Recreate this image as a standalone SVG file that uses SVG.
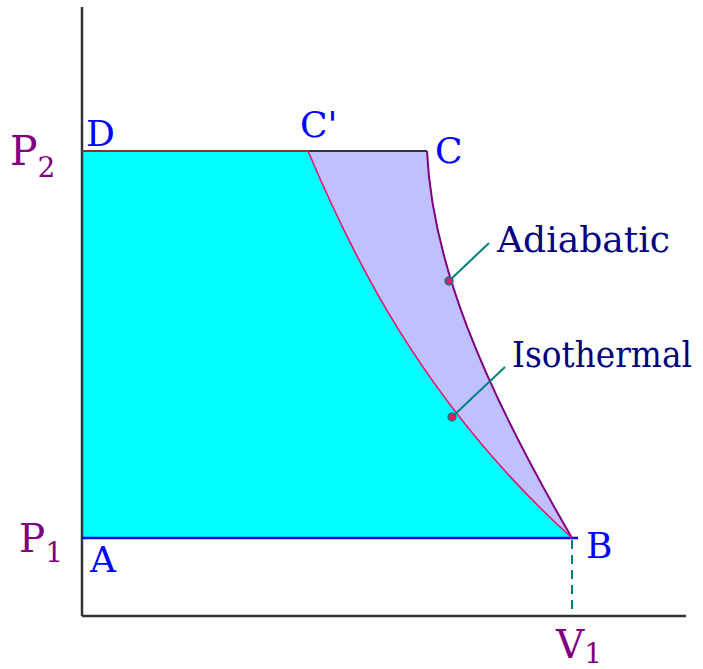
<svg xmlns="http://www.w3.org/2000/svg" width="703" height="669" viewBox="0 0 703 669">
<style>
text{font-family:'DejaVu Serif','Liberation Serif',serif}
.lbl{fill:#0000FF;font-size:36px}
.ax{fill:#800080}
.cap{fill:#000080;font-size:35px}
.lead{stroke:#008080;stroke-width:2;fill:none}
.dot{fill:#E8186A;stroke:#008080;stroke-width:1.5}
</style>
<rect width="703" height="669" fill="#fff"/>
<g id="regions">
<path d="M82,151 L308,151 C350,250 420,400 572,538 L82,538 Z" fill="#00FFFF"/>
<path d="M308,151 L427,151 C432,260 480,380 572,538 C420,400 350,250 308,151 Z" fill="#C0C0FF"/>
</g>
<g id="connectors">
<line x1="82" y1="7" x2="82" y2="616" stroke="#333" stroke-width="2.5"/>
<line x1="82" y1="616" x2="686" y2="616" stroke="#333" stroke-width="2.5"/>
<line x1="82" y1="151" x2="308" y2="151" stroke="#A02828" stroke-width="2"/>
<line x1="308" y1="151" x2="427" y2="151" stroke="#333" stroke-width="2"/>
<line x1="82" y1="538" x2="578" y2="538" stroke="#0000FF" stroke-width="2.5"/>
<line x1="572" y1="540" x2="572" y2="615" stroke="#008080" stroke-width="2" stroke-dasharray="9,6"/>
<path id="adiabatic" d="M427,151 C432,260 480,380 572,538" fill="none" stroke="#800080" stroke-width="2"/>
<path id="isothermal" d="M308,151 C350,250 420,400 572,538" fill="none" stroke="#E8186A" stroke-width="1.6"/>
<line class="lead" x1="449" y1="281" x2="489" y2="243"/>
<line class="lead" x1="452" y1="417" x2="505" y2="367"/>
<circle class="dot" cx="449" cy="281" r="4"/>
<circle class="dot" cx="452" cy="417" r="4"/>
</g>
<g id="labels">
<text class="lbl" x="86" y="146">D</text>
<text class="lbl" x="300" y="137">C'</text>
<text class="lbl" x="435" y="163">C</text>
<text class="lbl" x="90" y="572">A</text>
<text class="lbl" x="586" y="558">B</text>
<text class="ax" x="10" y="165" font-size="41">P<tspan font-size="28" dy="12">2</tspan></text>
<text class="ax" x="19" y="552" font-size="39">P<tspan font-size="28" dy="10">1</tspan></text>
<text class="ax" x="556" y="658" font-size="39">V<tspan font-size="28" dy="5">1</tspan></text>
<text id="adiabatic-label" class="cap" x="497" y="252" textLength="173" lengthAdjust="spacingAndGlyphs">Adiabatic</text>
<text id="isothermal-label" class="cap" x="512" y="367" font-size="33" textLength="180" lengthAdjust="spacingAndGlyphs">Isothermal</text>
</g>
</svg>
